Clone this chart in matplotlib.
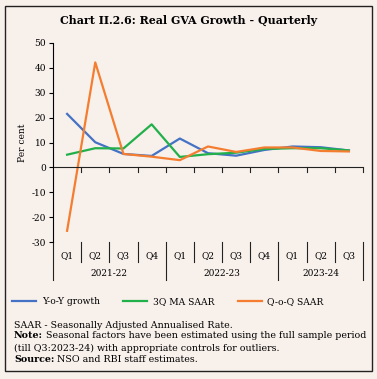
import matplotlib
matplotlib.use("Agg")
import matplotlib.pyplot as plt
from matplotlib.patches import Rectangle

# data
quarters = ["Q1", "Q2", "Q3", "Q4", "Q1", "Q2", "Q3", "Q4", "Q1", "Q2", "Q3"]
years = ["2021-22", "2022-23", "2023-24"]
year_sizes = [4, 4, 3]
yoy = [21.5, 10.1, 5.4, 4.6, 11.6, 5.7, 4.7, 7.0, 8.4, 8.1, 6.8]
ma3_saar = [5.1, 7.7, 7.6, 17.3, 4.2, 5.3, 5.9, 7.4, 7.7, 7.7, 6.8]
qoq_saar = [-25.5, 42.2, 5.4, 4.3, 2.9, 8.4, 6.2, 8.0, 8.0, 6.6, 6.4]

bg = "#f8f0eb"
plt.rcParams["font.family"] = ["DejaVu Serif"]
plt.rcParams["axes.unicode_minus"] = False

W, H = 377, 379
fig = plt.figure(figsize=(W / 100, H / 100), dpi=100, facecolor=bg)
fig.patches.append(Rectangle((5 / W, 1 - 371 / H), 367 / W, 365 / H, transform=fig.transFigure,
                             fill=False, edgecolor="#222222", linewidth=1.0))

ax = fig.add_axes([53 / W, 1 - 242 / H, 310 / W, 199 / H])
ax.set_facecolor(bg)

x = list(range(len(quarters)))
ax.plot(x, yoy, color="#4472c4", lw=1.6, label="Y-o-Y growth")
ax.plot(x, ma3_saar, color="#22b04b", lw=1.6, label="3Q MA SAAR")
ax.plot(x, qoq_saar, color="#f47d30", lw=1.6, label="Q-o-Q SAAR")

ax.set_xlim(-0.5, len(quarters) - 0.5)
ax.set_ylim(-30, 50)
ax.set_yticks(range(-30, 51, 10))
ax.tick_params(axis="y", labelsize=6.5, length=3, width=0.8, pad=2)
ax.set_ylabel("Per cent", fontsize=6.5, labelpad=3)

for s in ["top", "right", "bottom"]:
    ax.spines[s].set_visible(False)
ax.spines["left"].set_linewidth(0.8)
ax.set_xticks([])

# zero line with downward ticks
ax.axhline(0, color="#222222", lw=0.8)
tr = ax.get_xaxis_transform()
zero_frac = 30 / 80
for i in range(len(quarters)):
    ax.plot([i + 0.5, i + 0.5], [zero_frac, zero_frac - 0.025], color="#222222", lw=0.8,
            transform=tr, clip_on=False)

# category axis below
year_bounds = [-0.5]
for n in year_sizes:
    year_bounds.append(year_bounds[-1] + n)
for i in range(len(quarters)):
    ax.text(i, -0.07, quarters[i], transform=tr, ha="center", va="center", fontsize=6.5)
    b = i + 0.5
    if b in year_bounds:
        ax.plot([b, b], [0, -0.19], color="#222222", lw=0.8, transform=tr, clip_on=False)
    else:
        ax.plot([b, b], [0, -0.10], color="#222222", lw=0.8, transform=tr, clip_on=False)
ax.plot([-0.5, -0.5], [0, -0.19], color="#222222", lw=0.8, transform=tr, clip_on=False)
for k, yr in enumerate(years):
    mid = (year_bounds[k] + year_bounds[k + 1]) / 2
    ax.text(mid, -0.156, yr, transform=tr, ha="center", va="center", fontsize=6.5)

fig.text(189 / W, 1 - 20 / H, "Chart II.2.6: Real GVA Growth - Quarterly", ha="center", va="center",
         fontsize=7.9, fontweight="bold")

fig.legend(loc="center left", bbox_to_anchor=(4 / W, 1 - 302 / H), ncol=3, frameon=False,
           fontsize=6.6, handlelength=2.6, columnspacing=2.6, handletextpad=0.6)

# notes
fs = 6.85
fig.canvas.draw()
rend = fig.canvas.get_renderer()


def note_line(ypix, bold, rest):
    xf = 14 / W
    if bold:
        t = fig.text(xf, 1 - ypix / H, bold, fontsize=fs, fontweight="bold", va="center")
        bb = t.get_window_extent(renderer=rend)
        xf = (bb.x1 + 3) / W
    fig.text(xf, 1 - ypix / H, rest, fontsize=fs, va="center")


note_line(325, "", "SAAR - Seasonally Adjusted Annualised Rate.")
note_line(336, "Note:", "Seasonal factors have been estimated using the full sample period")
note_line(348, "", "(till Q3:2023-24) with appropriate controls for outliers.")
note_line(359, "Source:", "NSO and RBI staff estimates.")

fig.savefig("out.png", dpi=100, facecolor=bg)
